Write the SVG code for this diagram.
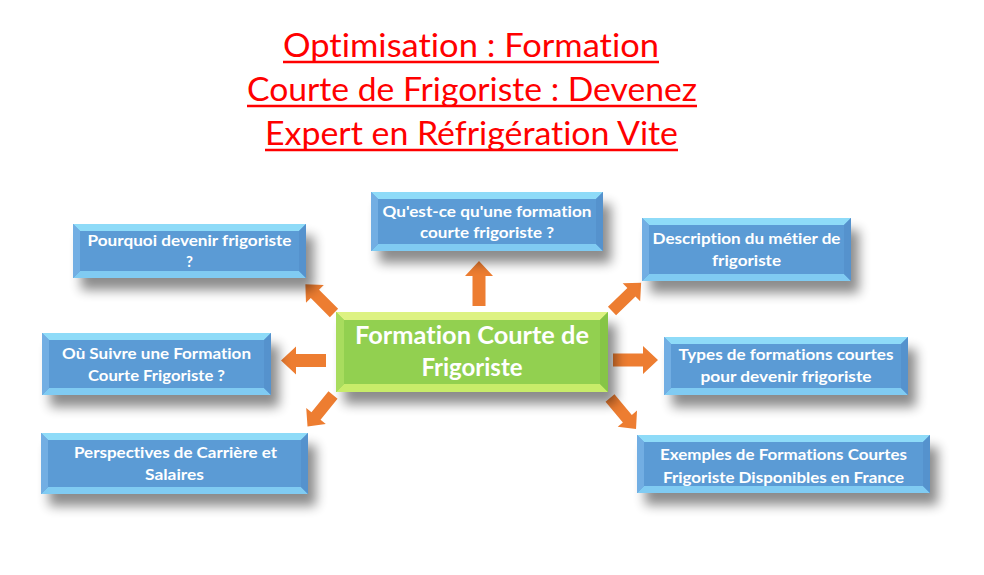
<svg xmlns="http://www.w3.org/2000/svg" width="984" height="575" viewBox="0 0 984 575">
<style>
text{font-variant-ligatures:none}
.title{font-family:Lato,"Liberation Sans",sans-serif;font-size:32px;fill:#FF0000;text-anchor:middle}
.ul{stroke:#FF0000;stroke-width:2.5}
.nt{font-family:Lato,"Liberation Sans",sans-serif;font-weight:bold;font-size:15px;fill:#FFFFFF;text-anchor:middle}
.ct{font-family:Lato,"Liberation Sans",sans-serif;font-weight:bold;font-size:24px;fill:#FFFFFF;text-anchor:middle}
.sh{fill:#000;opacity:0.45}
.bm{fill:#5B9BD5}
.bt{fill:#8EDBF8}
.bb{fill:#80CBF2}
.bl{fill:#72AEE3}
.br{fill:#5592CD}
.gm{fill:#92D050}
.gt{fill:#DDF282}
.gb{fill:#C8EC6A}
.gl{fill:#A8DC5E}
.gr{fill:#86C546}
.arr{fill:#ED7D31}
</style>
<defs>
<filter id="blur" x="-20%" y="-40%" width="140%" height="180%"><feGaussianBlur stdDeviation="6"/></filter>
<path id="arrow" d="M0,-6.5 H30 V-14 L45,0 L30,14 V6.5 H0 Z"/>
</defs>
<rect width="984" height="575" fill="#FFFFFF"/>
<g id="title">
<text class="title" x="471" y="57" textLength="376" lengthAdjust="spacingAndGlyphs">Optimisation : Formation</text>
<text class="title" x="472" y="101" textLength="450" lengthAdjust="spacingAndGlyphs">Courte de Frigoriste : Devenez</text>
<text class="title" x="471.5" y="145" textLength="413" lengthAdjust="spacingAndGlyphs">Expert en Réfrigération Vite</text>
<line class="ul" x1="283" y1="62" x2="659" y2="62"/>
<line class="ul" x1="247" y1="106" x2="697" y2="106"/>
<line class="ul" x1="265" y1="150" x2="678" y2="150"/>
</g>
<g id="connectors">
<use href="#arrow" class="arr" transform="translate(479,306) rotate(-90)"/>
<use href="#arrow" class="arr" transform="translate(326,360.5) rotate(180)"/>
<use href="#arrow" class="arr" transform="translate(613,360)"/>
<use href="#arrow" class="arr" transform="translate(334,313) rotate(-135) scale(0.9)"/>
<use href="#arrow" class="arr" transform="translate(333,395) rotate(129) scale(0.9)"/>
<use href="#arrow" class="arr" transform="translate(612,311) rotate(-44) scale(0.9)"/>
<use href="#arrow" class="arr" transform="translate(610,398) rotate(50) scale(0.9)"/>
</g>
<g id="node-pourquoi">
<rect class="sh" x="81" y="236" width="233" height="54" filter="url(#blur)"/>
<rect class="bm" x="73" y="224" width="233" height="54"/>
<polygon class="bt" points="73,224 306,224 299,231 80,231"/>
<polygon class="bb" points="73,278 306,278 299,271 80,271"/>
<polygon class="bl" points="73,224 80,231 80,271 73,278"/>
<polygon class="br" points="306,224 299,231 299,271 306,278"/>
<text class="nt" x="189.5" y="246" textLength="204" lengthAdjust="spacingAndGlyphs">Pourquoi devenir frigoriste</text>
<text class="nt" x="189.5" y="267">?</text>
</g>
<g id="node-quest">
<rect class="sh" x="379" y="204" width="232" height="59" filter="url(#blur)"/>
<rect class="bm" x="371" y="192" width="232" height="59"/>
<polygon class="bt" points="371,192 603,192 596,199 378,199"/>
<polygon class="bb" points="371,251 603,251 596,244 378,244"/>
<polygon class="bl" points="371,192 378,199 378,244 371,251"/>
<polygon class="br" points="603,192 596,199 596,244 603,251"/>
<text class="nt" x="487" y="217" textLength="209" lengthAdjust="spacingAndGlyphs">Qu'est-ce qu'une formation</text>
<text class="nt" x="487" y="238" textLength="134" lengthAdjust="spacingAndGlyphs">courte frigoriste ?</text>
</g>
<g id="node-description">
<rect class="sh" x="650" y="230" width="209" height="63" filter="url(#blur)"/>
<rect class="bm" x="642" y="218" width="209" height="63"/>
<polygon class="bt" points="642,218 851,218 844,225 649,225"/>
<polygon class="bb" points="642,281 851,281 844,274 649,274"/>
<polygon class="bl" points="642,218 649,225 649,274 642,281"/>
<polygon class="br" points="851,218 844,225 844,274 851,281"/>
<text class="nt" x="746.5" y="244" textLength="188" lengthAdjust="spacingAndGlyphs">Description du métier de</text>
<text class="nt" x="746.5" y="266" textLength="69" lengthAdjust="spacingAndGlyphs">frigoriste</text>
</g>
<g id="node-ou">
<rect class="sh" x="50" y="345" width="229" height="62" filter="url(#blur)"/>
<rect class="bm" x="42" y="333" width="229" height="62"/>
<polygon class="bt" points="42,333 271,333 264,340 49,340"/>
<polygon class="bb" points="42,395 271,395 264,388 49,388"/>
<polygon class="bl" points="42,333 49,340 49,388 42,395"/>
<polygon class="br" points="271,333 264,340 264,388 271,395"/>
<text class="nt" x="156.5" y="359" textLength="189" lengthAdjust="spacingAndGlyphs">Où Suivre une Formation</text>
<text class="nt" x="156.5" y="381" textLength="137" lengthAdjust="spacingAndGlyphs">Courte Frigoriste ?</text>
</g>
<g id="node-types">
<rect class="sh" x="672" y="349" width="244" height="58" filter="url(#blur)"/>
<rect class="bm" x="664" y="337" width="244" height="58"/>
<polygon class="bt" points="664,337 908,337 901,344 671,344"/>
<polygon class="bb" points="664,395 908,395 901,388 671,388"/>
<polygon class="bl" points="664,337 671,344 671,388 664,395"/>
<polygon class="br" points="908,337 901,344 901,388 908,395"/>
<text class="nt" x="786" y="360" textLength="215" lengthAdjust="spacingAndGlyphs">Types de formations courtes</text>
<text class="nt" x="786" y="382" textLength="171" lengthAdjust="spacingAndGlyphs">pour devenir frigoriste</text>
</g>
<g id="node-perspectives">
<rect class="sh" x="49" y="445" width="267" height="61" filter="url(#blur)"/>
<rect class="bm" x="41" y="433" width="267" height="61"/>
<polygon class="bt" points="41,433 308,433 301,440 48,440"/>
<polygon class="bb" points="41,494 308,494 301,487 48,487"/>
<polygon class="bl" points="41,433 48,440 48,487 41,494"/>
<polygon class="br" points="308,433 301,440 301,487 308,494"/>
<text class="nt" x="175.5" y="458" textLength="203" lengthAdjust="spacingAndGlyphs">Perspectives de Carrière et</text>
<text class="nt" x="174.5" y="480" textLength="59" lengthAdjust="spacingAndGlyphs">Salaires</text>
</g>
<g id="node-exemples">
<rect class="sh" x="645" y="447" width="293" height="58" filter="url(#blur)"/>
<rect class="bm" x="637" y="435" width="293" height="58"/>
<polygon class="bt" points="637,435 930,435 923,442 644,442"/>
<polygon class="bb" points="637,493 930,493 923,486 644,486"/>
<polygon class="bl" points="637,435 644,442 644,486 637,493"/>
<polygon class="br" points="930,435 923,442 923,486 930,493"/>
<text class="nt" x="783.5" y="460" textLength="247" lengthAdjust="spacingAndGlyphs">Exemples de Formations Courtes</text>
<text class="nt" x="783.5" y="483" textLength="241" lengthAdjust="spacingAndGlyphs">Frigoriste Disponibles en France</text>
</g>
<g id="node-center">
<rect class="sh" x="344" y="324" width="272" height="80" filter="url(#blur)"/>
<rect class="gm" x="336" y="312" width="272" height="80"/>
<polygon class="gt" points="336,312 608,312 600,320 344,320"/>
<polygon class="gb" points="336,392 608,392 600,384 344,384"/>
<polygon class="gl" points="336,312 344,320 344,384 336,392"/>
<polygon class="gr" points="608,312 600,320 600,384 608,392"/>
<text class="ct" x="472" y="344" textLength="234" lengthAdjust="spacingAndGlyphs">Formation Courte de</text>
<text class="ct" x="472" y="376">Frigoriste</text>
</g>
</svg>
